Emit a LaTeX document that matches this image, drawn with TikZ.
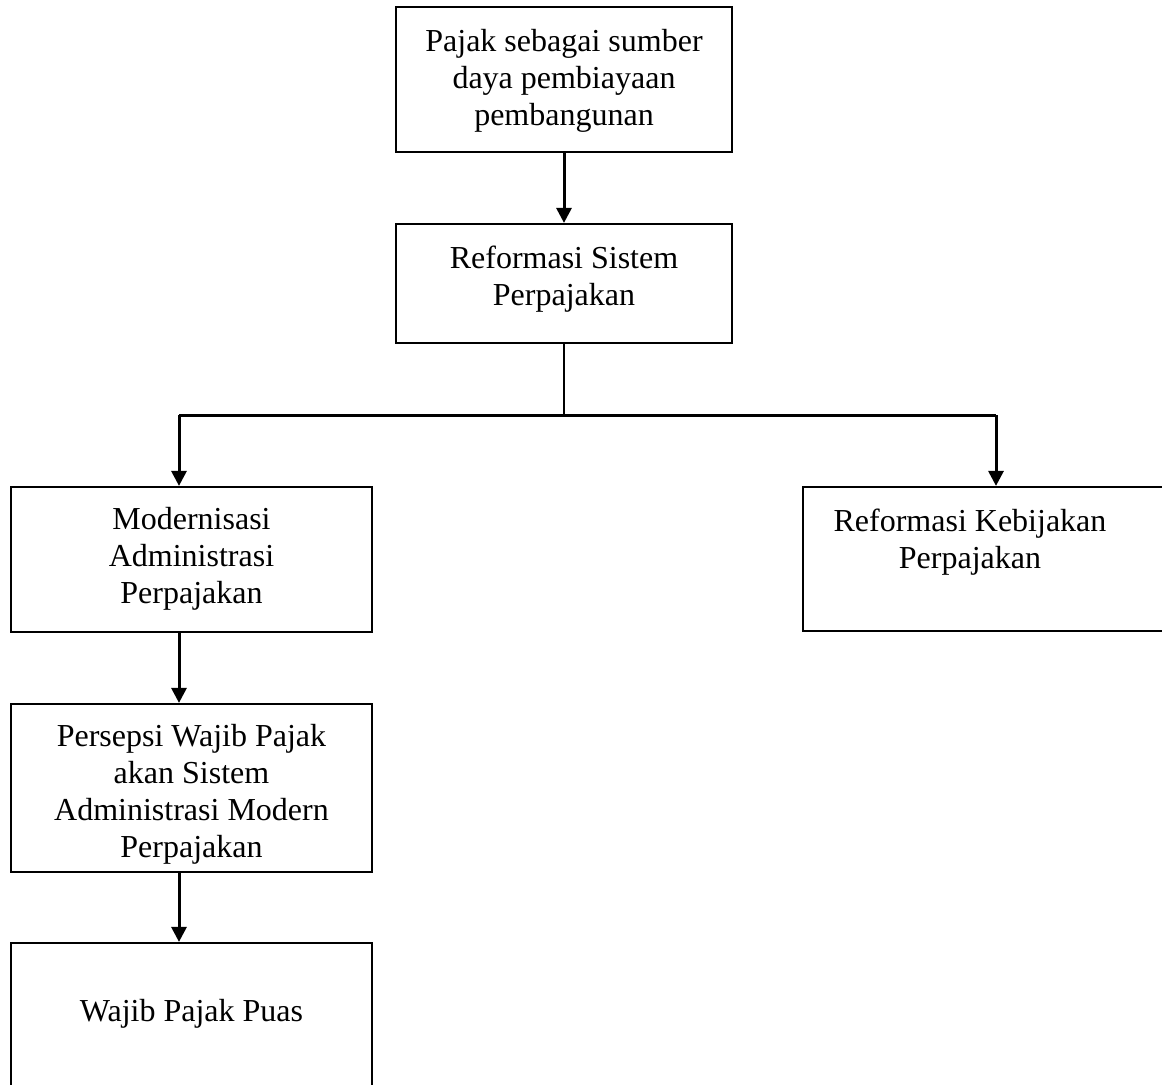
\documentclass[tikz,border=0pt]{standalone}
\usepackage{fontspec}
\setmainfont{Liberation Serif}
\usetikzlibrary{arrows.meta}
\begin{document}
\begin{tikzpicture}[x=0.5pt,y=-0.5pt,
  box/.style={draw, line width=1.1pt, inner sep=0pt, rectangle},
  txt/.style={anchor=base, align=center, inner sep=0pt, font=\fontsize{16}{18.5}\selectfont},
  arr/.style={line width=1.5pt, -{Triangle[width=7.5pt,length=7.5pt]}},
  lin/.style={line width=1.5pt},
  thin/.style={line width=0.75pt}]
\clip (0,0) rectangle (1162,1084);
\fill[white] (0,0) rectangle (1162,1084);
% boxes
\node[box, minimum width=168pt, minimum height=72.5pt] (top) at (564,79.5) {};
\node[box, minimum width=168pt, minimum height=59.5pt] (sys) at (564,283.5) {};
\node[box, minimum width=180.5pt, minimum height=72.5pt] (mod) at (191.5,559.5) {};
\node[box, minimum width=188.5pt, minimum height=72pt] (kbj) at (991.5,559) {};
\node[box, minimum width=180.5pt, minimum height=84pt] (per) at (191.5,788) {};
\node[box, minimum width=180.5pt, minimum height=80pt] (puas) at (191.5,1023) {};
% texts (anchored at the baseline of the last line)
\node[txt] (ttop) at (564,125) {Pajak sebagai sumber\\daya pembiayaan\\pembangunan};
\node[txt] (tsys) at (564,305) {Reformasi Sistem\\Perpajakan};
\node[txt] (tmod) at (191.5,603) {Modernisasi\\Administrasi\\Perpajakan};
\node[txt] (tkbj) at (970,568) {Reformasi Kebijakan\\Perpajakan};
\node[txt] (tper) at (191.5,857) {Persepsi Wajib Pajak\\akan Sistem\\Administrasi Modern\\Perpajakan};
\node[txt] (tpuas) at (191.5,1021) {Wajib Pajak Puas};
% connectors
\coordinate (jc) at (564,415);
\coordinate (jl) at (179,415);
\coordinate (jr) at (996,415);
\draw[arr] (top.south) -- (sys.north);
\draw[thin] (sys.south) -- (jc);
\draw[lin] (jl) -- (jr);
\draw[arr] (jl) -- (jl |- mod.north);
\draw[arr] (jr) -- (jr |- kbj.north);
\draw[arr] (jl |- mod.south) -- (jl |- per.north);
\draw[arr] (jl |- per.south) -- (jl |- puas.north);
\end{tikzpicture}
\end{document}
